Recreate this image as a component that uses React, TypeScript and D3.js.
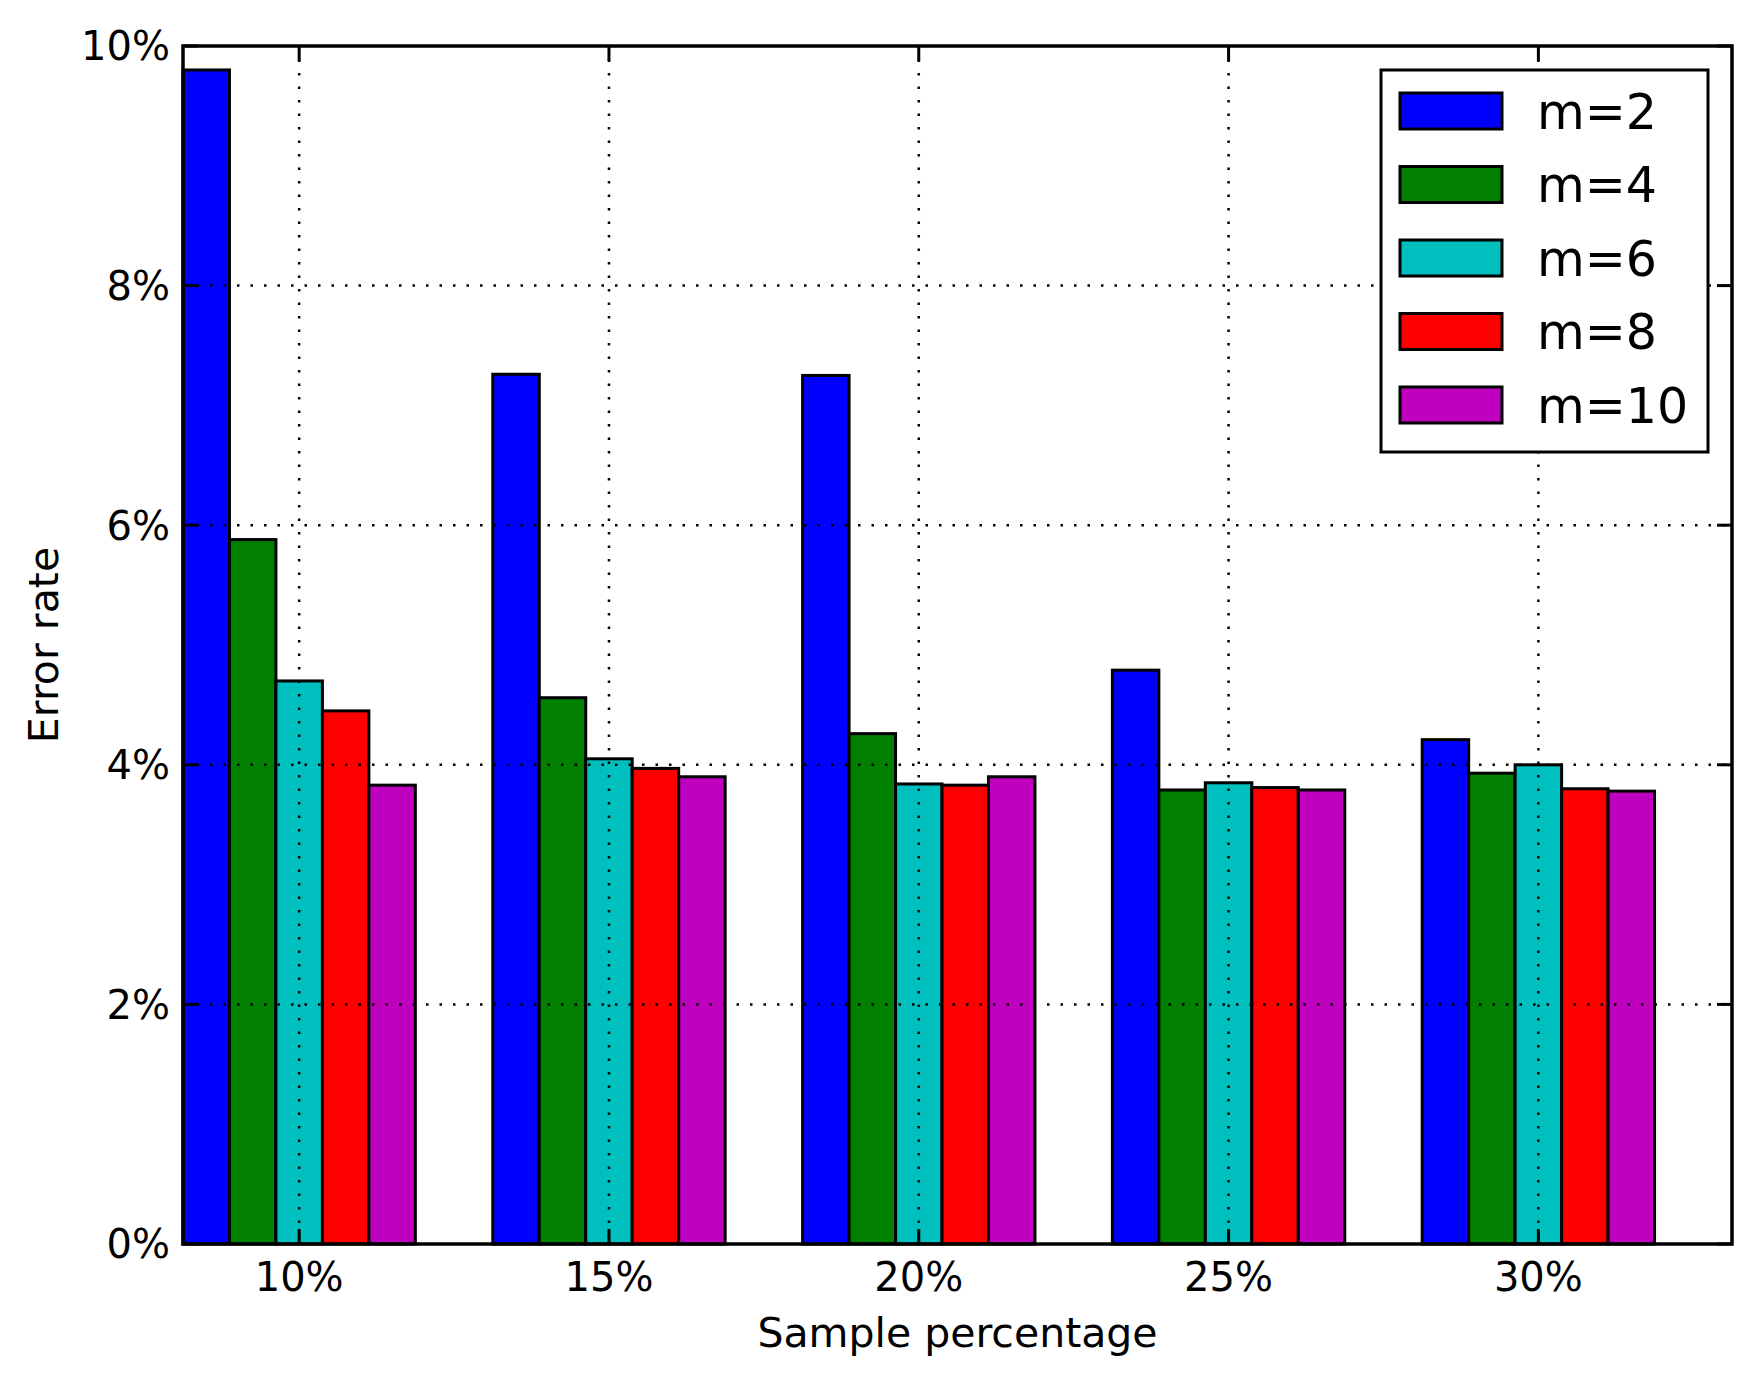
import React from "react";
import * as d3 from "d3";

const categories = ["10%", "15%", "20%", "25%", "30%"];
const seriesNames = ["m=2", "m=4", "m=6", "m=8", "m=10"];
const seriesColors = ["#0000ff", "#007f00", "#00bfbf", "#ff0000", "#bf00bf"];
const m2 = [9.8, 7.26, 7.25, 4.79, 4.21];
const m4 = [5.88, 4.56, 4.26, 3.79, 3.93];
const m6 = [4.7, 4.05, 3.84, 3.85, 4.0];
const m8 = [4.45, 3.97, 3.83, 3.81, 3.8];
const m10 = [3.83, 3.9, 3.9, 3.79, 3.78];
const yTicks = [0, 2, 4, 6, 8, 10];

const seriesValues = [m2, m4, m6, m8, m10];

const W = 1757;
const H = 1381;
const L = 183, R = 1732, T = 46, B = 1244;
const barW = 0.15;
const FONT = "DejaVu Sans";

export default function App() {
  const x = d3.scaleLinear().domain([0, 5]).range([L, R]);
  const y = d3.scaleLinear().domain([0, 10]).range([B, T]);
  const tickX = categories.map((_, i) => x(i + (barW * seriesNames.length) / 2));
  const tickLen = 15;
  const dash = "2.5,11";

  return (
    <svg width={W} height={H} style={{ position: "absolute", left: 0, top: 0, background: "#fff" }}>
      <rect x={0} y={0} width={W} height={H} fill="#fff" />
      {/* bars */}
      {seriesValues.map((vals, s) =>
        vals.map((v, i) => {
          const x0 = x(i + s * barW);
          const x1 = x(i + (s + 1) * barW);
          return (
            <rect
              key={`b${s}-${i}`}
              x={x0}
              y={y(v)}
              width={x1 - x0}
              height={y(0) - y(v)}
              fill={seriesColors[s]}
              stroke="#000"
              strokeWidth={3}
            />
          );
        })
      )}
      {/* grid */}
      {yTicks.slice(1, -1).map((t) => (
        <line key={`gy${t}`} x1={L} x2={R} y1={y(t)} y2={y(t)} stroke="#000" strokeWidth={2.5} strokeDasharray={dash} />
      ))}
      {tickX.map((tx, i) => (
        <line key={`gx${i}`} x1={tx} x2={tx} y1={T} y2={B} stroke="#000" strokeWidth={2.5} strokeDasharray={dash} />
      ))}
      {/* ticks */}
      {yTicks.map((t) => (
        <g key={`ty${t}`}>
          <line x1={L} x2={L + tickLen} y1={y(t)} y2={y(t)} stroke="#000" strokeWidth={3} />
          <line x1={R} x2={R - tickLen} y1={y(t)} y2={y(t)} stroke="#000" strokeWidth={3} />
          <text x={L - 13} y={y(t)} dy="0.36em" textAnchor="end" fontFamily={FONT} fontSize={40}>
            {`${t}%`}
          </text>
        </g>
      ))}
      {tickX.map((tx, i) => (
        <g key={`tx${i}`}>
          <line x1={tx} x2={tx} y1={B} y2={B - tickLen} stroke="#000" strokeWidth={3} />
          <line x1={tx} x2={tx} y1={T} y2={T + tickLen} stroke="#000" strokeWidth={3} />
          <text x={tx} y={B + 47} textAnchor="middle" fontFamily={FONT} fontSize={40}>
            {categories[i]}
          </text>
        </g>
      ))}
      {/* frame */}
      <rect x={L} y={T} width={R - L} height={B - T} fill="none" stroke="#000" strokeWidth={3.5} />
      {/* axis labels */}
      <text x={(L + R) / 2} y={1347} textAnchor="middle" fontFamily={FONT} fontSize={41}>
        Sample percentage
      </text>
      <text
        transform={`translate(58,${(T + B) / 2}) rotate(-90)`}
        textAnchor="middle"
        fontFamily={FONT}
        fontSize={41}
      >
        Error rate
      </text>
      {/* legend */}
      <g>
        <rect x={1381} y={70} width={327} height={382} fill="#fff" stroke="#000" strokeWidth={3} />
        {seriesNames.map((name, s) => (
          <g key={`lg${s}`} transform={`translate(0,${s * 73.5})`}>
            <rect x={1400} y={93} width={102} height={36} fill={seriesColors[s]} stroke="#000" strokeWidth={3} />
            <text x={1537} y={111} dy="0.36em" fontFamily={FONT} fontSize={49}>
              {name}
            </text>
          </g>
        ))}
      </g>
    </svg>
  );
}
